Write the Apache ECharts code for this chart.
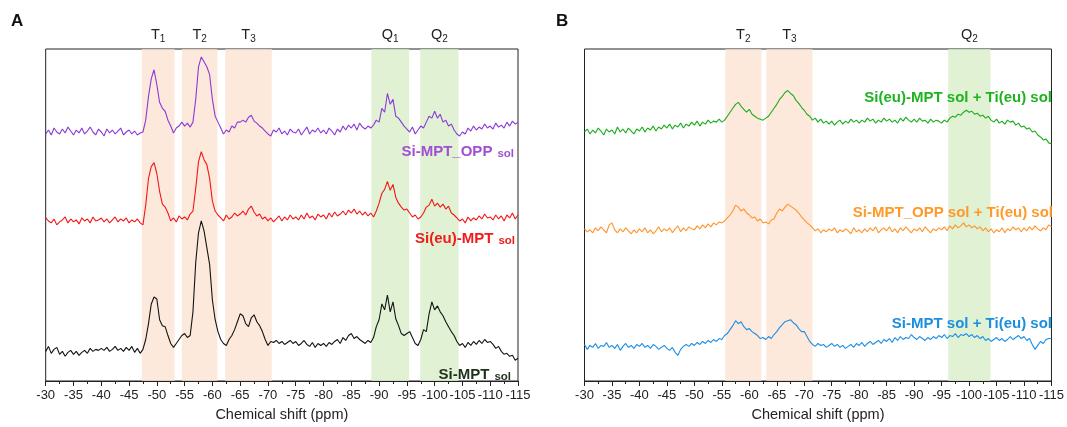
<!DOCTYPE html>
<html><head><meta charset="utf-8">
<script src="https://cdn.jsdelivr.net/npm/echarts@6/dist/echarts.min.js"></script>
<style>html,body{margin:0;padding:0;background:#fff}#c{width:1067px;height:427px}</style>
</head><body><div id="c"></div>
<script>
// chemical shift grid (ppm), 0.5 ppm step
const shift = [-30,-30.5,-31,-31.5,-32,-32.5,-33,-33.5,-34,-34.5,-35,-35.5,-36,-36.5,-37,-37.5,-38,-38.5,-39,-39.5,
-40,-40.5,-41,-41.5,-42,-42.5,-43,-43.5,-44,-44.5,-45,-45.5,-46,-46.5,-47,-47.5,-48,-48.5,-49,-49.5,
-50,-50.5,-51,-51.5,-52,-52.5,-53,-53.5,-54,-54.5,-55,-55.5,-56,-56.5,-57,-57.5,-58,-58.5,-59,-59.5,
-60,-60.5,-61,-61.5,-62,-62.5,-63,-63.5,-64,-64.5,-65,-65.5,-66,-66.5,-67,-67.5,-68,-68.5,-69,-69.5,
-70,-70.5,-71,-71.5,-72,-72.5,-73,-73.5,-74,-74.5,-75,-75.5,-76,-76.5,-77,-77.5,-78,-78.5,-79,-79.5,
-80,-80.5,-81,-81.5,-82,-82.5,-83,-83.5,-84,-84.5,-85,-85.5,-86,-86.5,-87,-87.5,-88,-88.5,-89,-89.5,
-90,-90.5,-91,-91.5,-92,-92.5,-93,-93.5,-94,-94.5,-95,-95.5,-96,-96.5,-97,-97.5,-98,-98.5,-99,-99.5,
-100,-100.5,-101,-101.5,-102,-102.5,-103,-103.5,-104,-104.5,-105,-105.5,-106,-106.5,-107,-107.5,-108,-108.5,-109,-109.5,
-110,-110.5,-111,-111.5,-112,-112.5,-113,-113.5,-114,-114.5,-115];

// Panel A (stacked intensities, arbitrary units incl. offset)
const siMptOpp = [250,254,249,256,252,250,255,251,257,253, 249,254,251,256,250,253,257,252,249,255,
252,248,255,251,254,250,253,256,249,252, 254,250,253,249,251,252,264,288,306,315,
300,282,276,273,264,258,251,256,258,262, 258,261,257,262,285,318,328,323,318,310,
285,268,262,256,250,254,252,258,256,262, 262,264,262,267,269,263,261,258,256,253,
250,248,254,252,256,250,253,249,255,252, 251,255,249,253,257,250,254,252,256,251,
254,250,256,253,249,255,252,258,254,259, 256,260,254,261,257,255,258,256,259,264,
262,276,272,291,280,285,268,266,262,258, 255,252,257,250,254,258,256,262,268,266,
273,266,270,262,264,258,260,254,250,248, 252,250,256,253,258,254,257,255,260,256,
258,255,261,257,259,256,262,258,263,260, 262];
const siEuMpt = [165,162,160,164,158,161,163,166,160,164, 161,163,159,165,162,164,160,166,162,163,
165,161,164,160,163,166,161,164,162,165, 160,163,161,164,160,158,178,205,217,221,
210,192,179,176,170,162,165,161,167,164, 166,163,169,172,195,222,232,224,219,205,
182,172,168,165,162,168,164,166,170,167, 169,172,168,174,177,171,167,169,164,166,
162,165,161,164,167,162,166,163,168,164, 166,163,168,164,170,165,167,163,169,166,
168,164,170,166,171,167,169,172,168,173, 170,174,169,172,168,171,167,170,166,172,
180,190,194,202,193,199,186,180,176,173, 174,170,166,168,164,166,170,176,178,184,
177,180,176,179,174,177,170,168,165,162, 164,160,166,162,165,163,167,164,169,165,
166,163,168,164,167,162,168,165,170,164, 168];
const siMpt = [30,35,28,32,34,27,30,25,29,31, 27,30,26,29,31,28,33,30,32,31,
33,31,34,30,32,35,31,33,30,34, 31,35,29,33,28,32,42,58,78,85,
83,62,56,55,46,38,34,38,42,46, 48,44,46,70,120,150,162,152,135,118,
82,62,50,42,38,36,42,46,52,60, 68,66,58,55,64,67,60,56,50,42,
36,40,39,41,38,40,37,39,41,38, 40,36,38,41,37,35,39,34,38,36,
38,35,39,37,40,42,38,44,41,46, 48,43,45,42,40,38,41,39,44,55,
62,78,72,87,70,80,63,56,48,46, 48,50,44,38,36,42,52,50,68,80,
72,76,70,66,60,55,50,46,40,36, 38,34,39,36,40,37,41,38,42,39,
40,37,33,35,30,27,28,25,26,21, 23];

// Panel B
const siEuMptTi = [252,255,250,254,251,256,253,249,255,252, 254,250,257,252,255,251,256,253,250,255,
253,257,252,256,254,258,253,257,255,259, 256,260,255,259,257,261,256,260,258,262,
259,263,258,262,260,264,261,263,262,265, 262,264,268,272,276,280,282,278,275,272,
275,270,268,266,265,264,266,268,272,276, 280,285,288,292,294,291,289,284,281,277,
274,270,268,264,266,262,265,261,263,260, 263,259,262,264,260,263,261,265,262,264,
261,264,262,266,263,265,261,264,262,266, 263,265,262,264,261,266,263,267,264,262,
265,262,266,263,264,261,265,262,264,263, 261,264,262,266,268,267,270,269,272,274,
272,273,270,271,268,269,266,268,264,262, 265,261,263,260,264,262,263,259,261,257,
258,255,256,252,253,249,247,244,245,241, 240];
const siMptOppTi = [154,151,153,150,155,152,156,153,150,158, 160,153,150,154,151,155,152,149,153,150,
154,151,155,150,153,149,152,156,151,154, 152,155,150,154,157,151,155,152,156,154,
153,157,154,158,155,159,156,160,158,161, 160,162,165,168,172,178,176,172,174,170,
168,165,166,162,164,160,161,159,163,164, 170,174,172,176,179,177,175,173,170,166,
163,160,158,155,152,154,150,153,151,154, 152,155,150,153,151,154,152,149,155,151,
153,150,154,151,155,152,156,150,153,155, 152,156,151,154,150,155,152,156,153,150,
154,152,155,151,156,153,150,154,152,155, 153,156,152,157,154,158,155,157,160,156,
158,155,157,154,156,152,155,151,154,150, 153,151,155,150,154,152,156,153,155,151,
155,152,156,153,157,154,152,155,153,158, 156];
const siMptTi = [37,32,36,34,38,33,36,35,39,34, 36,33,37,31,35,38,34,36,33,37,
35,38,34,36,33,37,35,32,34,36, 33,31,34,29,26,32,35,37,35,38,
36,39,37,40,38,41,39,42,40,43, 42,46,48,52,56,61,58,60,55,52,
53,50,48,46,43,44,42,45,43,47, 50,54,57,60,61,62,59,57,53,50,
50,45,40,37,35,38,36,37,34,36, 38,35,37,34,36,33,35,37,34,38,
36,39,35,38,40,37,39,41,38,42, 40,43,39,44,41,45,42,44,43,47,
44,42,45,43,41,44,42,45,43,46, 44,47,43,46,45,48,44,47,46,48,
45,47,44,46,43,45,41,43,40,42, 44,41,43,40,42,45,42,44,46,43,
45,41,43,37,32,36,40,38,42,43, 43];

// shaded regions [from, to, label, subscript, kind]
const bandsA = [[-47.3,-53.2,'T','1','t'],[-54.5,-60.9,'T','2','t'],[-62.3,-70.7,'T','3','t'],[-88.6,-95.4,'Q','1','q'],[-97.4,-104.3,'Q','2','q']];
const bandsB = [[-55.6,-62.2,'T','2','t'],[-63.1,-71.5,'T','3','t'],[-96.2,-103.9,'Q','2','q']];

const FONT = '"Liberation Sans", Arial, sans-serif';
const bandColor = {t:'rgba(252,226,208,0.75)', q:'rgba(218,238,200,0.8)'};

function pairs(v){ return shift.map((x,i)=>[x, v[i]]); }
function bandSeries(bands, idx){
  return {type:'line', xAxisIndex:idx, yAxisIndex:idx, data:[], symbol:'none', z:1, silent:true,
    markArea:{silent:true, data: bands.map(b=>[{xAxis:b[0], itemStyle:{color:bandColor[b[4]]},
      label:{show:true, position:'top', distance:5, formatter:'{m|'+b[2]+'}{s|'+b[3]+'}',
        rich:{m:{fontFamily:FONT,fontSize:14.5,color:'#222'}, s:{fontFamily:FONT,fontSize:10,color:'#222',padding:[8,0,0,0]}}}},
      {xAxis:b[1]}])}};
}
function trace(v, color, idx){
  return {type:'line', xAxisIndex:idx, yAxisIndex:idx, data:pairs(v), symbol:'none', z:3,
    lineStyle:{color, width:1.1}, animation:false};
}
function xAx(idx){
  return {gridIndex:idx, type:'value', min:-115, max:-30, interval:5, inverse:true,
    axisLine:{show:true, onZero:false, lineStyle:{color:'#222', width:1}},
    axisTick:{show:true, inside:false, length:5, lineStyle:{color:'#222'}},
    minorTick:{show:true, splitNumber:2, length:3, lineStyle:{color:'#222'}},
    splitLine:{show:false},
    axisLabel:{fontFamily:FONT, fontSize:13, color:'#222', margin:8, showMinLabel:true, showMaxLabel:true},
    name:'Chemical shift (ppm)', nameLocation:'middle', nameGap:26,
    nameTextStyle:{fontFamily:FONT, fontSize:14.5, color:'#222'}};
}
function yAx(idx){ return {gridIndex:idx, type:'value', min:0, max:336, show:false}; }
function lbl(main, sub, color, right, top){
  return {text:'{m|'+main+'} {s|'+sub+'}', right, top, padding:0,
    textStyle:{rich:{m:{fontFamily:FONT,fontSize:15,fontWeight:'bold',color},
                     s:{fontFamily:FONT,fontSize:11.5,fontWeight:'bold',color,padding:[3,0,0,0]}}}};
}
function lblB(text, color, right, top){
  return {text, right, top, padding:0, textStyle:{fontFamily:FONT,fontSize:15,fontWeight:'bold',color}};
}

const chart = echarts.init(document.getElementById('c'), null, {renderer:'canvas'});
chart.setOption({
  animation:false,
  backgroundColor:'#fff',
  title:[
    {text:'A', left:11, top:13, padding:0, textStyle:{fontFamily:FONT,fontSize:17,fontWeight:'bold',color:'#111'}},
    {text:'B', left:556, top:13, padding:0, textStyle:{fontFamily:FONT,fontSize:17,fontWeight:'bold',color:'#111'}},
    lbl('Si-MPT_OPP','sol','#a050d2',553,143),
    lbl('Si(eu)-MPT','sol','#ee1c1c',552,230),
    lbl('Si-MPT','sol','#1f301f',556,366),
    lblB('Si(eu)-MPT sol + Ti(eu) sol','#1fb31f',15,90),
    lblB('Si-MPT_OPP sol + Ti(eu) sol','#ff9a2a',14,205),
    lblB('Si-MPT sol + Ti(eu) sol','#1a8fe0',15,316)
  ],
  grid:[
    {left:45.7, right:549, top:49, bottom:41, show:true, borderColor:'#222', borderWidth:1, backgroundColor:'transparent'},
    {left:584.5, right:10, top:49, bottom:41, show:true, borderColor:'#222', borderWidth:1, backgroundColor:'transparent'}
  ],
  xAxis:[xAx(0), xAx(1)],
  yAxis:[yAx(0), yAx(1)],
  series:[
    bandSeries(bandsA,0), bandSeries(bandsB,1),
    trace(siMptOpp,'#8a3ad6',0), trace(siEuMpt,'#f01818',0), trace(siMpt,'#141414',0),
    trace(siEuMptTi,'#1aac1a',1), trace(siMptOppTi,'#ff9428',1), trace(siMptTi,'#1a8ee6',1)
  ]
});
</script></body></html>
